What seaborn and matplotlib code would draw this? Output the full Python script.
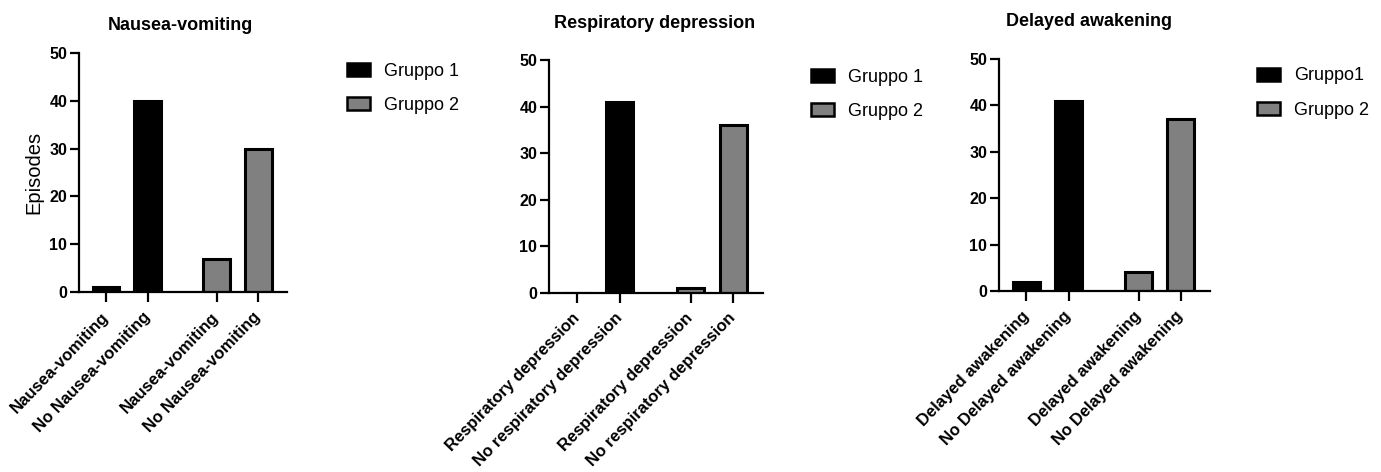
import numpy as np
import pandas as pd
import matplotlib
matplotlib.use("Agg")
import matplotlib.pyplot as plt
import seaborn as sns

# ---------------- data ----------------
titles = ["Nausea-vomiting", "Respiratory depression", "Delayed awakening"]
groups = ["Gruppo 1", "Gruppo 2"]
outcomes_nausea = ["Nausea-vomiting", "No Nausea-vomiting"]
outcomes_resp = ["Respiratory depression", "No respiratory depression"]
outcomes_delayed = ["Delayed awakening", "No Delayed awakening"]
nausea_g1 = [1, 40]
nausea_g2 = [7, 30]
resp_g1 = [0, 41]
resp_g2 = [1, 36]
delayed_g1 = [2, 41]
delayed_g2 = [4, 37]
legend_labels_nausea = ["Gruppo 1", "Gruppo 2"]
legend_labels_resp = ["Gruppo 1", "Gruppo 2"]
legend_labels_delayed = ["Gruppo1", "Gruppo 2"]
y_ticks = [0, 10, 20, 30, 40, 50]
y_label = "Episodes"

# ---------------- style ----------------
sns.set_theme(style="ticks")
plt.rcParams["font.family"] = ["Liberation Sans", "DejaVu Sans"]
plt.rcParams["axes.linewidth"] = 1.6
for k in ["text.color", "axes.labelcolor", "xtick.color", "ytick.color",
          "axes.edgecolor"]:
    plt.rcParams[k] = "black"

GROUP_STEP = 2.65
palette = {"Gruppo 1": "#000000", "Gruppo 2": "#808080"}

panels = [
    (titles[0], outcomes_nausea, nausea_g1, nausea_g2, legend_labels_nausea),
    (titles[1], outcomes_resp, resp_g1, resp_g2, legend_labels_resp),
    (titles[2], outcomes_delayed, delayed_g1, delayed_g2, legend_labels_delayed),
]

W, H = 1381, 472
fig = plt.figure(figsize=(W / 100, H / 100), dpi=100)

# axes boxes in pixels: left, right, top, bottom(zero line)
ax_px = [(79, 287, 53, 292), (549, 763, 60, 293), (999, 1210, 59, 291)]
title_px = [(180, 25), (655, 23), (1089, 22)]
legend_px = [(347, 88.5), (811, 94.5), (1257, 93)]

for i, (title, outcomes, g1, g2, leg_labels) in enumerate(panels):
    l, r, t, b = ax_px[i]
    ax = fig.add_axes([l / W, 1 - b / H, (r - l) / W, (b - t) / H])

    rows = []
    for gi, (g, vals) in enumerate(zip(groups, [g1, g2])):
        for oi, (o, v) in enumerate(zip(outcomes, vals)):
            rows.append({"group": g, "outcome": o, "value": v,
                         "pos": gi * GROUP_STEP + oi})
    df = pd.DataFrame(rows)

    sns.barplot(data=df, x="pos", y="value", hue="group", palette=palette,
                native_scale=True, width=0.64, edgecolor="black",
                linewidth=2.2, errorbar=None, ax=ax, legend=True)

    ax.set_ylim(0, 50)
    ax.set_xlim(-0.65, (GROUP_STEP + 1) + 0.69)
    ax.set_yticks(y_ticks)
    ax.set_yticklabels([str(v) for v in y_ticks], fontsize=11.5, fontweight="bold")
    ax.set_xticks(df["pos"].tolist())
    ax.set_xticklabels(df["outcome"].tolist(), rotation=46, ha="right",
                       va="center", rotation_mode="anchor", fontsize=12,
                       fontweight="bold")
    ax.tick_params(axis="y", length=6.5, width=1.6, pad=2, color="black")
    ax.tick_params(axis="x", length=7.2, width=1.6, pad=9, color="black")
    for s in ["top", "right"]:
        ax.spines[s].set_visible(False)
    ax.set_xlabel("")
    if i == 0:
        ax.set_ylabel(y_label, fontsize=14.5, labelpad=4)
    else:
        ax.set_ylabel("")

    tx, ty = title_px[i]
    fig.text(tx / W, 1 - ty / H, title, ha="center", va="center",
             fontsize=13, fontweight="bold")

    handles = ax.get_legend().legend_handles
    ax.get_legend().remove()
    lx, ly = legend_px[i]
    leg = ax.legend(handles, leg_labels, loc="center left",
                    bbox_to_anchor=(lx / W, 1 - ly / H),
                    bbox_transform=fig.transFigure, frameon=False,
                    fontsize=13, handlelength=1.3, handleheight=0.72,
                    handletextpad=0.75, labelspacing=0.95,
                    borderpad=0, borderaxespad=0)
    for h in leg.legend_handles:
        h.set_edgecolor("black")
        h.set_linewidth(1.8)

fig.savefig("out.png", dpi=100, facecolor="white")
